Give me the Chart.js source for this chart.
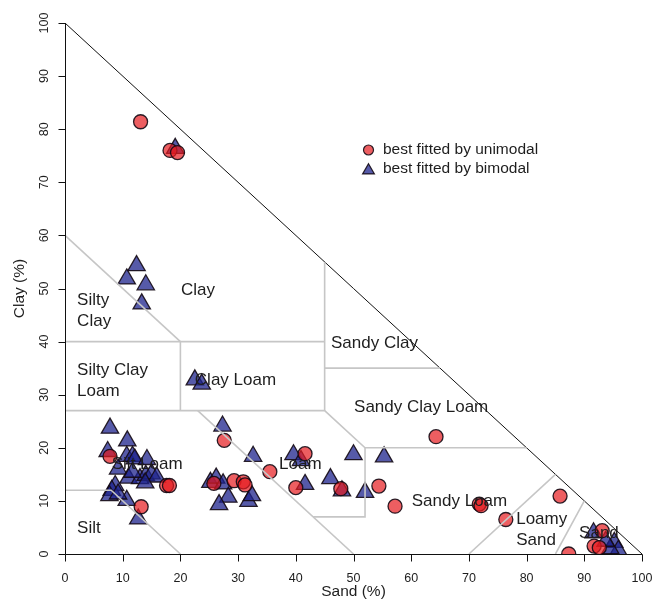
<!DOCTYPE html>
<html>
<head>
<meta charset="utf-8">
<script src="https://cdn.jsdelivr.net/npm/chart.js@4.4.1/dist/chart.umd.min.js"></script>
<style>
  html, body { margin: 0; padding: 0; background: #ffffff; }
  #wrap { width: 654px; height: 602px; }
</style>
</head>
<body>
<div id="wrap"><canvas id="c" width="654" height="602"></canvas></div>
<script>
// Axis tick values (percent)
const axisTicks = [0, 10, 20, 30, 40, 50, 60, 70, 80, 90, 100];

// Samples best fitted by a unimodal model: sand %, clay %
const uniSand = [13.1, 18.2, 19.5, 27.6, 35.5, 41.6, 40.0, 47.8, 54.4, 25.8, 29.3, 30.9, 31.2,
                 64.3, 57.2, 71.8, 72.1, 76.4, 85.8, 87.3, 93.1, 91.7, 92.6, 7.8, 17.6, 18.1, 13.2];
const uniClay = [81.4, 76.0, 75.6, 21.4, 15.5, 18.9, 12.5, 12.3, 12.8, 13.3, 13.8, 13.6, 13.0,
                 22.1, 9.0, 9.4, 9.1, 6.5, 10.9, 0.0, 4.4, 1.5, 1.2, 18.4, 12.9, 12.9, 8.9];

// Samples best fitted by a bimodal model: sand %, clay %
const biSand = [19.1, 12.4, 10.7, 14.0, 13.3, 22.5, 23.7, 7.8, 27.3, 10.8, 7.4, 10.7, 11.7, 12.1,
                14.2, 9.2, 11.0, 13.0, 14.0, 15.0, 15.9, 13.9, 11.7, 8.7, 8.1, 7.7, 10.7, 12.7,
                32.6, 39.6, 41.6, 46.0, 50.0, 48.0, 52.0, 55.3, 25.2, 26.2, 27.4, 28.3, 26.7,
                31.8, 32.4, 91.6, 95.2, 95.9, 94.5, 93.7, 40.9, 9.2];
const biClay = [76.4, 54.3, 51.8, 50.7, 47.1, 32.8, 32.0, 23.7, 24.1, 21.3, 19.3, 18.4, 18.4, 17.9,
                17.8, 16.0, 14.3, 14.2, 14.8, 15.1, 14.5, 13.4, 15.4, 12.9, 12.0, 11.0, 10.1, 6.6,
                18.4, 18.7, 13.1, 14.2, 18.7, 11.9, 11.6, 18.3, 13.5, 14.3, 13.2, 10.7, 9.3,
                9.9, 11.0, 4.0, 2.2, 0.7, 1.0, 2.4, 17.6, 11.3];

// USDA texture class boundaries as [sand, clay] polylines
const classBoundaries = [
  [[0, 60], [20, 40]],
  [[0, 40], [45, 40]],
  [[45, 55], [45, 27]],
  [[45, 35], [65, 35]],
  [[20, 40], [20, 27]],
  [[0, 27], [45, 27], [52, 20], [80, 20]],
  [[23, 27], [50, 0]],
  [[43, 7], [52, 7], [52, 20]],
  [[0, 12], [8, 12], [20, 0]],
  [[70, 0], [85, 15]],
  [[85, 0], [90, 10]]
];
const triangleEdge = [[0, 100], [100, 0]];

// Texture class names and where their first line starts (sand %, clay %)
const classNames = ['Clay', 'Silty\nClay', 'Silty Clay\nLoam', 'Clay Loam', 'Sandy Clay',
                    'Sandy Clay Loam', 'Silt Loam', 'Loam', 'Sandy Loam', 'Loamy\nSand', 'Sand', 'Silt'];
const classNameSand = [20.1, 2.1, 2.1, 22.5, 46.1, 50.1, 8.1, 37.1, 60.1, 78.2, 89.1, 2.1];
const classNameClay = [49.7, 47.8, 34.5, 32.8, 39.7, 27.7, 16.8, 16.8, 9.9, 6.6, 3.9, 4.9];

const seriesNames = ['best fitted by unimodal', 'best fitted by bimodal'];

const FONT = '"Liberation Sans", Arial, Helvetica, sans-serif';
const circleFill = 'rgba(230,25,30,0.70)';
const triFill = 'rgba(30,35,140,0.75)';
const markEdge = 'rgba(20,10,20,0.9)';

const toXY = (sx, cy) => sx.map((v, i) => ({ x: v, y: cy[i] }));

const datasets = [];
classBoundaries.forEach(line => {
  datasets.push({
    type: 'line',
    data: line.map(p => ({ x: p[0], y: p[1] })),
    borderColor: 'rgb(198,198,198)',
    borderWidth: 1.6,
    pointRadius: 0,
    fill: false,
    tension: 0,
    order: 0
  });
});
datasets.push({
  type: 'line',
  data: triangleEdge.map(p => ({ x: p[0], y: p[1] })),
  borderColor: '#111111',
  borderWidth: 1,
  pointRadius: 0,
  fill: false,
  order: 0
});
datasets.push({
  label: seriesNames[0],
  data: toXY(uniSand, uniClay),
  pointStyle: 'circle',
  pointRadius: 7,
  backgroundColor: circleFill,
  borderColor: markEdge,
  borderWidth: 1.3,
  order: 1
});
datasets.push({
  label: seriesNames[1],
  data: toXY(biSand, biClay),
  pointStyle: 'triangle',
  pointRadius: 10,
  backgroundColor: triFill,
  borderColor: markEdge,
  borderWidth: 1.3,
  order: 2
});

function trianglePath(ctx, cx, cy, r) {
  ctx.beginPath();
  let rad = 0;
  ctx.moveTo(cx + Math.sin(rad) * r, cy - Math.cos(rad) * r);
  rad += 2 * Math.PI / 3;
  ctx.lineTo(cx + Math.sin(rad) * r, cy - Math.cos(rad) * r);
  rad += 2 * Math.PI / 3;
  ctx.lineTo(cx + Math.sin(rad) * r, cy - Math.cos(rad) * r);
  ctx.closePath();
}

const axesAndText = {
  id: 'axesAndText',
  afterDatasetsDraw(chart) {
    const { ctx } = chart;
    const xs = chart.scales.x, ys = chart.scales.y;
    ctx.save();

    // class names
    ctx.font = '17px ' + FONT;
    ctx.fillStyle = '#1e1e1e';
    ctx.textAlign = 'left';
    ctx.textBaseline = 'middle';
    classNames.forEach((name, i) => {
      const px = xs.getPixelForValue(classNameSand[i]);
      const py = ys.getPixelForValue(classNameClay[i]);
      name.split('\n').forEach((ln, k) => ctx.fillText(ln, px, py + k * 21));
    });

    // axes
    const x0 = Math.round(xs.getPixelForValue(0)) + 0.5;
    const y0 = Math.round(ys.getPixelForValue(0)) + 0.5;
    ctx.strokeStyle = '#111111';
    ctx.lineWidth = 1;
    ctx.beginPath();
    ctx.moveTo(x0, Math.round(ys.getPixelForValue(100)) + 0.5);
    ctx.lineTo(x0, y0);
    ctx.moveTo(x0, y0);
    ctx.lineTo(Math.round(xs.getPixelForValue(100)) + 0.5, y0);
    axisTicks.forEach(t => {
      const px = Math.round(xs.getPixelForValue(t)) + 0.5;
      ctx.moveTo(px, y0);
      ctx.lineTo(px, y0 + 7);
      const py = Math.round(ys.getPixelForValue(t)) + 0.5;
      ctx.moveTo(x0, py);
      ctx.lineTo(x0 - 7, py);
    });
    ctx.stroke();

    ctx.font = '12.5px ' + FONT;
    ctx.fillStyle = '#1e1e1e';
    ctx.textAlign = 'center';
    ctx.textBaseline = 'middle';
    axisTicks.forEach(t => {
      ctx.fillText(String(t), xs.getPixelForValue(t), y0 + 24);
      ctx.save();
      ctx.translate(x0 - 21, ys.getPixelForValue(t));
      ctx.rotate(-Math.PI / 2);
      ctx.fillText(String(t), 0, 0);
      ctx.restore();
    });

    // axis titles
    ctx.font = '15.5px ' + FONT;
    ctx.fillText('Sand (%)', (xs.getPixelForValue(0) + xs.getPixelForValue(100)) / 2, 592);
    ctx.save();
    ctx.translate(20, (ys.getPixelForValue(0) + ys.getPixelForValue(100)) / 2);
    ctx.rotate(-Math.PI / 2);
    ctx.fillText('Clay (%)', 0, 0);
    ctx.restore();

    // legend
    const lx = 368.5, ly1 = 150, ly2 = 169;
    ctx.lineWidth = 1.2;
    ctx.strokeStyle = markEdge;
    ctx.fillStyle = circleFill;
    ctx.beginPath();
    ctx.arc(lx, ly1, 5, 0, Math.PI * 2);
    ctx.fill();
    ctx.stroke();
    ctx.fillStyle = triFill;
    trianglePath(ctx, lx, ly2 + 1.5, 6.8);
    ctx.fill();
    ctx.stroke();
    ctx.fillStyle = '#1e1e1e';
    ctx.textAlign = 'left';
    ctx.font = '15.5px ' + FONT;
    ctx.fillText(seriesNames[0], 383, ly1);
    ctx.fillText(seriesNames[1], 383, ly2);

    ctx.restore();
  }
};

new Chart(document.getElementById('c'), {
  type: 'scatter',
  data: { datasets },
  options: {
    responsive: false,
    animation: false,
    devicePixelRatio: 1,
    layout: { padding: { left: 65, top: 23, right: 12, bottom: 48 } },
    scales: {
      x: { type: 'linear', min: 0, max: 100, display: false },
      y: { type: 'linear', min: 0, max: 100, display: false }
    },
    plugins: { legend: { display: false }, tooltip: { enabled: false } }
  },
  plugins: [axesAndText]
});
</script>
</body>
</html>
